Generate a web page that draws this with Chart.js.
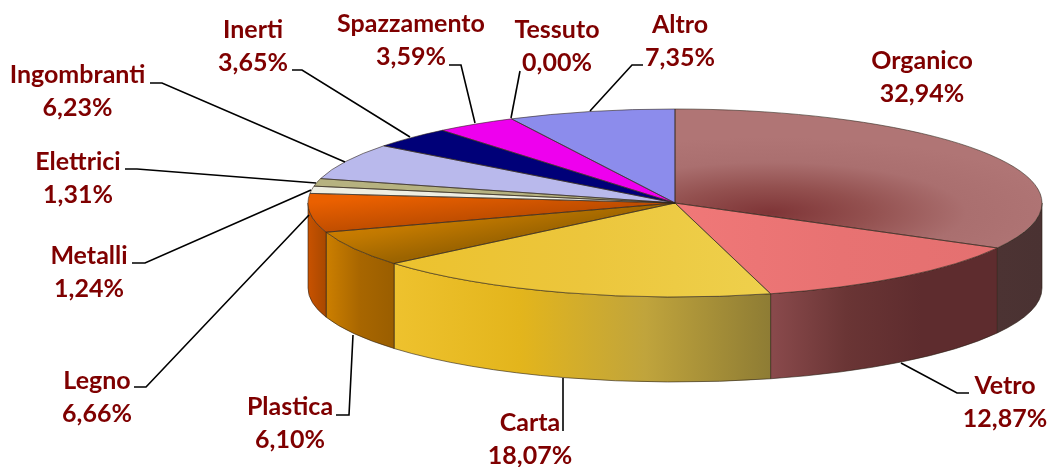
<!DOCTYPE html>
<html>
<head>
<meta charset="utf-8">
<title>Composizione rifiuti</title>
<script src="https://cdn.jsdelivr.net/npm/chart.js@4"></script>
<style>
  html, body { margin: 0; padding: 0; background: #fff; }
  canvas { display: block; }
</style>
</head>
<body>
<canvas id="pieChart" width="1047" height="467"></canvas>
<script>
const categories = ["Organico", "Vetro", "Carta", "Plastica", "Legno", "Metalli", "Elettrici", "Ingombranti", "Inerti", "Spazzamento", "Tessuto", "Altro"];
const percentages = [32.94, 12.87, 18.07, 6.10, 6.66, 1.24, 1.31, 6.23, 3.65, 3.59, 0.00, 7.35];

// pie geometry on the page
const centerX = 675;
const centerY = 203;
const radiusX = 367;
const radiusY = 94;
const depth = 85;
const squash = radiusY / radiusX;

// label centres (x, y of first line)
const labelPos = [
  [922, 61], [1005, 386], [530, 423], [290, 407], [97, 381], [89, 256],
  [78, 162], [77.5, 75], [253, 30], [411, 24], [557, 30], [680, 25],
];
const labelGap = 32.5;

// leader lines, empty when the label has none
const leaders = [
  [],
  [[901, 363], [957, 393], [969, 393]],
  [[563, 378], [563, 431]],
  [[353, 335], [349, 415], [336, 415]],
  [[309, 215], [146, 387], [134, 387]],
  [[311, 190], [145, 263], [132, 263]],
  [[125, 169], [137, 169], [316, 183]],
  [[150, 83], [162, 83], [345, 162]],
  [[292, 70], [302, 70], [410, 137]],
  [[449, 65], [461, 65], [475, 123]],
  [[511, 118], [520, 71]],
  [[590, 111], [632, 65], [643, 65]],
];

// side wall colours, left to right
const wallStops = [
  ["#4c3333", "#4a3232"],
  ["#8a4a4c", "#6a3535", "#5e2c2e", "#5e2c2e"],
  ["#eec22e", "#e3b51c", "#c0a43c", "#8e7c34"],
  ["#cc7f00", "#a86600", "#9a5e00"],
  ["#c85200", "#a84800"],
  ["#eeeee0"], ["#b8b488"], ["#b9b9ec"], ["#000078"], ["#ee00ee"], ["#8c8cec"], ["#8c8cec"],
];

const canvas = document.getElementById("pieChart");
const ctx = canvas.getContext("2d");

const radial = (dx, dy, r, stops) => {
  const x = centerX + dx * radiusX;
  const y = centerY + dy * radiusX;
  const g = ctx.createRadialGradient(x, y, 0, x, y, r * radiusX);
  stops.forEach((c, i) => g.addColorStop(i / (stops.length - 1), c));
  return g;
};
const linear = (x0, y0, x1, y1, stops) => {
  const g = ctx.createLinearGradient(
    centerX + x0 * radiusX, centerY + y0 * radiusX,
    centerX + x1 * radiusX, centerY + y1 * radiusX
  );
  stops.forEach((c, i) => g.addColorStop(i / (stops.length - 1), c));
  return g;
};

const topColors = [
  radial(0.26, 0.1, 0.8, ["#7f3537", "#93504f", "#aa6f6f", "#b07575"]),
  linear(0, 0, 0.9, 0, ["#f07878", "#e87272", "#e47070"]),
  linear(-0.75, 0, 0.25, 0, ["#ecc22e", "#ecc63c", "#eed04c"]),
  linear(-0.9, 0.1, -0.62, 0.5, ["#dc8400", "#c07800", "#9c6400"]),
  linear(-0.95, -0.02, -0.829, 0.329, ["#ea6000", "#b84a00"]),
  "#eeeee2", "#b6b280", "#b9b9ec", "#000078", "#ee00ee", "#8c8cec", "#8c8cec",
];

const wallPath = (arc, a, b) => {
  const ry = arc.outerRadius * squash;
  ctx.beginPath();
  ctx.ellipse(arc.x, arc.y, arc.outerRadius, ry, 0, a, b);
  ctx.ellipse(arc.x, arc.y + depth, arc.outerRadius, ry, 0, b, a, true);
  ctx.closePath();
};

const pie3d = {
  id: "pie3d",
  beforeDatasetsDraw(chart) {
    const arcs = chart.getDatasetMeta(0).data;
    arcs.forEach((arc, i) => {
      const a = Math.max(arc.startAngle, 0);
      const b = Math.min(arc.endAngle, Math.PI);
      if (b <= a) return;
      const x0 = arc.x + arc.outerRadius * Math.cos(b);
      const x1 = arc.x + arc.outerRadius * Math.cos(a);
      const g = ctx.createLinearGradient(x0, 0, x1, 0);
      wallStops[i].forEach((c, k, all) => g.addColorStop(all.length > 1 ? k / (all.length - 1) : 0, c));
      wallPath(arc, a, b);
      ctx.fillStyle = g;
      ctx.fill();
      ctx.strokeStyle = "rgba(40,30,20,0.75)";
      ctx.lineWidth = 0.8;
      ctx.stroke();
    });
    ctx.save();
    ctx.translate(centerX, centerY);
    ctx.scale(1, squash);
    ctx.translate(-centerX, -centerY);
  },
  afterDatasetsDraw(chart) {
    ctx.restore();
    const arcs = chart.getDatasetMeta(0).data;
    ctx.lineWidth = 0.8;
    ctx.strokeStyle = "rgba(50,40,30,0.75)";
    arcs.forEach((arc) => {
      if (arc.endAngle - arc.startAngle <= 0) return;
      ctx.beginPath();
      ctx.moveTo(arc.x, arc.y);
      ctx.ellipse(arc.x, arc.y, arc.outerRadius, arc.outerRadius * squash, 0, arc.startAngle, arc.endAngle);
      ctx.closePath();
      ctx.stroke();
    });
  },
  afterDraw() {
    ctx.strokeStyle = "#000";
    ctx.lineWidth = 1.6;
    leaders.forEach((pts) => {
      if (!pts.length) return;
      ctx.beginPath();
      pts.forEach((p, i) => (i ? ctx.lineTo(p[0], p[1]) : ctx.moveTo(p[0], p[1])));
      ctx.stroke();
    });
    ctx.fillStyle = "#7f0000";
    ctx.font = "bold 25px Lato";
    ctx.textAlign = "center";
    ctx.textBaseline = "middle";
    categories.forEach((name, i) => {
      const [x, y] = labelPos[i];
      ctx.fillText(name, x, y);
      ctx.fillText(percentages[i].toFixed(2).replace(".", ",") + "%", x, y + labelGap);
    });
  },
};

new Chart(ctx, {
  type: "pie",
  data: {
    labels: categories,
    datasets: [
      {
        data: percentages,
        backgroundColor: topColors,
        borderWidth: 0,
      },
    ],
  },
  options: {
    responsive: false,
    animation: false,
    radius: radiusX,
    layout: {
      padding: {
        left: 2 * centerX - canvas.width,
        bottom: canvas.height - 2 * centerY,
      },
    },
    plugins: {
      legend: { display: false },
      tooltip: { enabled: false },
    },
  },
  plugins: [pie3d],
});
</script>
</body>
</html>
